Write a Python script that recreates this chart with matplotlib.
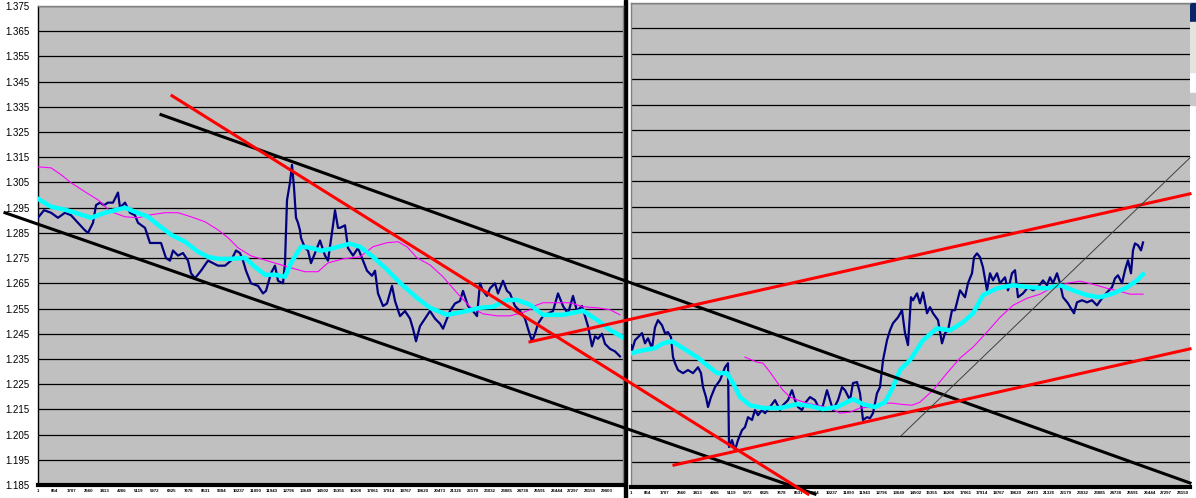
import numpy as np
import matplotlib.pyplot as plt
from matplotlib.patches import Rectangle

plt.rcParams['font.family'] = ['Liberation Sans', 'DejaVu Sans']

# ---- left chart (bar number, price) ----
left_bar = [0, 306, 663, 1020, 1377, 1683, 2040, 2397, 2550, 2805, 2958, 3162, 3366, 3570,
            3825, 4080, 4182, 4437, 4692, 4947, 5100, 5457, 5712, 5967, 6273, 6528, 6732,
            6885, 7140, 7395, 7650, 7803, 8007, 8313, 8670, 8925, 9180, 9537, 9843, 10098,
            10302, 10455, 10608, 10863, 11220, 11475, 11628, 11883, 12087, 12240, 12495,
            12597, 12699, 12852, 12954, 13056, 13158, 13260, 13362, 13413, 13617, 13770,
            13923, 14127, 14382, 14637, 14790, 15045, 15147, 15300, 15402, 15657, 15810,
            16065, 16320, 16575, 16779, 17034, 17187, 17340, 17595, 17799, 18054, 18207,
            18462, 18717, 18972, 19125, 19278, 19482, 19737, 19992, 20247, 20502, 20655,
            20859, 21012, 21267, 21522, 21675, 21930, 22185, 22389, 22542, 22695, 22899,
            23052, 23307, 23460, 23715, 23919, 24072, 24327, 24582, 24837, 24990, 25194,
            25347, 25500, 25755, 26010, 26265, 26520, 26775, 27030, 27285, 27489, 27744,
            27897, 28050, 28254, 28407, 28560, 28764, 28917, 29172, 29427, 29682]
left_price = [1.291, 1.294, 1.293, 1.291, 1.293, 1.292, 1.289, 1.286, 1.285, 1.289, 1.296,
              1.297, 1.296, 1.297, 1.297, 1.301, 1.295, 1.297, 1.293, 1.292, 1.289, 1.287,
              1.281, 1.281, 1.281, 1.275, 1.274, 1.278, 1.276, 1.277, 1.274, 1.269, 1.267,
              1.270, 1.274, 1.273, 1.272, 1.272, 1.274, 1.278, 1.277, 1.274, 1.270, 1.265,
              1.264, 1.261, 1.262, 1.269, 1.272, 1.266, 1.265, 1.273, 1.298, 1.305, 1.312,
              1.303, 1.291, 1.289, 1.286, 1.283, 1.279, 1.278, 1.273, 1.277, 1.282, 1.276,
              1.274, 1.288, 1.294, 1.287, 1.287, 1.288, 1.279, 1.276, 1.279, 1.274, 1.270,
              1.268, 1.270, 1.261, 1.256, 1.257, 1.264, 1.258, 1.252, 1.254, 1.251, 1.247,
              1.242, 1.248, 1.251, 1.254, 1.251, 1.249, 1.247, 1.251, 1.254, 1.257, 1.258,
              1.262, 1.256, 1.254, 1.252, 1.265, 1.262, 1.260, 1.263, 1.265, 1.261, 1.266,
              1.262, 1.261, 1.256, 1.254, 1.251, 1.247, 1.242, 1.245, 1.249, 1.252, 1.253,
              1.254, 1.261, 1.256, 1.253, 1.260, 1.254, 1.256, 1.252, 1.248, 1.240, 1.244,
              1.243, 1.245, 1.241, 1.239, 1.238, 1.236]

left_fast_bar = [0, 663, 1377, 1887, 2703, 3417, 4437, 4947, 5610, 6120, 6783, 7497, 8160,
                 8670, 9180, 9843, 10557, 11067, 11577, 12087, 12597, 12903, 13413, 13923,
                 14433, 14943, 15300, 15912, 16422, 17085, 17799, 18462, 19329, 19992, 20859,
                 21675, 22542, 23205, 23919, 24429, 25092, 25755, 26775, 27795, 28509, 29172,
                 29784]
left_fast = [1.2985, 1.2954, 1.2942, 1.2930, 1.2910, 1.2930, 1.2950, 1.2934, 1.2914, 1.2882,
             1.2843, 1.2815, 1.2775, 1.2755, 1.2747, 1.2747, 1.2751, 1.2715, 1.2684, 1.2684,
             1.2676, 1.2731, 1.2795, 1.2791, 1.2779, 1.2787, 1.2795, 1.2807, 1.2795, 1.2755,
             1.2704, 1.2652, 1.2592, 1.2553, 1.2525, 1.2537, 1.2553, 1.2557, 1.2584, 1.2584,
             1.2565, 1.2525, 1.2525, 1.2541, 1.2505, 1.2465, 1.2438]

left_slow_bar = [0, 663, 1173, 1683, 2397, 3060, 3723, 4437, 5100, 5763, 6477, 7140, 7803,
                 8517, 9180, 9690, 10200, 10863, 11883, 12750, 13617, 14280, 14790, 15555,
                 16422, 17085, 17799, 18360, 18819, 19329, 19992, 20655, 21369, 22032, 22695,
                 23409, 24072, 24684, 25092, 25347, 25755, 26469, 27132, 27795, 28509, 29172,
                 29682]
left_slow = [1.3112, 1.3108, 1.3081, 1.3049, 1.3013, 1.2981, 1.2934, 1.2914, 1.2910, 1.2922,
             1.2930, 1.2930, 1.2914, 1.2894, 1.2862, 1.2831, 1.2791, 1.2759, 1.2735, 1.2715,
             1.2696, 1.2696, 1.2731, 1.2747, 1.2755, 1.2795, 1.2811, 1.2815, 1.2795, 1.2751,
             1.2723, 1.2676, 1.2612, 1.2557, 1.2529, 1.2521, 1.2521, 1.2533, 1.2545, 1.2561,
             1.2573, 1.2573, 1.2573, 1.2557, 1.2553, 1.2545, 1.2525]

# ---- right chart (bar number, price) ----
right_bar = [0, 51, 204, 357, 561, 714, 867, 1071, 1224, 1377, 1581, 1734, 1887, 2040, 2142,
             2244, 2397, 2652, 2907, 3162, 3417, 3570, 3672, 3825, 3927, 4080, 4284, 4539,
             4794, 4947, 4998, 5151, 5304, 5457, 5661, 5814, 5967, 6171, 6324, 6477, 6681,
             6834, 7089, 7344, 7599, 7752, 8007, 8211, 8364, 8517, 8721, 8874, 9129, 9384,
             9639, 9792, 9996, 10149, 10302, 10557, 10761, 10914, 11169, 11322, 11526, 11679,
             11832, 12036, 12189, 12342, 12546, 12699, 12852, 13056, 13209, 13362, 13617,
             13821, 13974, 14127, 14280, 14382, 14586, 14739, 14892, 15096, 15249, 15402,
             15657, 15861, 16014, 16167, 16371, 16524, 16779, 17034, 17187, 17391, 17493,
             17646, 17799, 17952, 18156, 18309, 18462, 18666, 18819, 19074, 19227, 19431,
             19584, 19737, 19992, 20247, 20502, 20757, 21012, 21216, 21369, 21522, 21726,
             21879, 22032, 22287, 22491, 22593, 22746, 23001, 23256, 23511, 23766, 24021,
             24276, 24531, 24684, 24837, 25041, 25194, 25347, 25500, 25602, 25704, 25857,
             26010, 26112]
right_price = [1.2407, 1.2387, 1.2426, 1.2438, 1.2454, 1.2414, 1.2434, 1.2395, 1.2477, 1.2505,
               1.2485, 1.2454, 1.2458, 1.2438, 1.2360, 1.2336, 1.2309, 1.2297, 1.2309, 1.2297,
               1.2320, 1.2297, 1.2242, 1.2203, 1.2164, 1.2203, 1.2242, 1.2269, 1.2320, 1.2336,
               1.2007, 1.2034, 1.1995, 1.2034, 1.2073, 1.2085, 1.2124, 1.2113, 1.2152, 1.2132,
               1.2152, 1.2140, 1.2164, 1.2191, 1.2152, 1.2171, 1.2191, 1.2230, 1.2191, 1.2164,
               1.2152, 1.2179, 1.2203, 1.2191, 1.2152, 1.2171, 1.2230, 1.2191, 1.2152, 1.2191,
               1.2242, 1.2230, 1.2191, 1.2258, 1.2262, 1.2218, 1.2113, 1.2124, 1.2120, 1.2140,
               1.2218, 1.2242, 1.2348, 1.2426, 1.2465, 1.2493, 1.2516, 1.2544, 1.2454, 1.2407,
               1.2595, 1.2583, 1.2610, 1.2571, 1.2614, 1.2532, 1.2556, 1.2532, 1.2505, 1.2414,
               1.2454, 1.2465, 1.2544, 1.2544, 1.2622, 1.2595, 1.2650, 1.2689, 1.2752, 1.2767,
               1.2752, 1.2712, 1.2622, 1.2689, 1.2661, 1.2689, 1.2650, 1.2673, 1.2622, 1.2689,
               1.2701, 1.2595, 1.2610, 1.2634, 1.2622, 1.2634, 1.2661, 1.2642, 1.2673, 1.2650,
               1.2689, 1.2650, 1.2595, 1.2571, 1.2544, 1.2532, 1.2575, 1.2583, 1.2575, 1.2583,
               1.2563, 1.2591, 1.2614, 1.2634, 1.2669, 1.2681, 1.2650, 1.2701, 1.2740, 1.2689,
               1.2779, 1.2806, 1.2799, 1.2779, 1.2810]

right_fast_bar = [0, 612, 1224, 1632, 2091, 2652, 3366, 3876, 4386, 4896, 5202, 5559, 6069,
                  6732, 7599, 8466, 9129, 9792, 10506, 11322, 11832, 12444, 12954, 13362,
                  13719, 14229, 14892, 15606, 16269, 16932, 17442, 17952, 18666, 19482, 20349,
                  21216, 21879, 22542, 23256, 23919, 24582, 25296, 25806, 26112]
right_fast = [1.2375, 1.2387, 1.2395, 1.2414, 1.2422, 1.2395, 1.2360, 1.2328, 1.2297, 1.2297,
              1.2258, 1.2203, 1.2171, 1.2160, 1.2160, 1.2175, 1.2168, 1.2156, 1.2164, 1.2195,
              1.2175, 1.2164, 1.2183, 1.2242, 1.2309, 1.2348, 1.2426, 1.2473, 1.2465, 1.2497,
              1.2532, 1.2603, 1.2630, 1.2642, 1.2634, 1.2630, 1.2642, 1.2622, 1.2603, 1.2595,
              1.2610, 1.2634, 1.2661, 1.2685]

right_slow_bar = [5814, 6426, 6732, 7089, 7446, 7752, 8109, 8517, 8976, 9486, 10149, 10659,
                  11169, 11679, 12189, 12852, 13362, 13719, 14331, 14739, 15402, 16116, 16779,
                  17442, 18156, 18819, 19482, 20196, 20859, 21522, 22236, 22899, 23562, 24276,
                  24939, 25449, 26112]
right_slow = [1.2360, 1.2340, 1.2336, 1.2301, 1.2262, 1.2230, 1.2203, 1.2191, 1.2179, 1.2171,
              1.2160, 1.2140, 1.2144, 1.2160, 1.2164, 1.2179, 1.2179, 1.2175, 1.2171, 1.2183,
              1.2230, 1.2297, 1.2356, 1.2399, 1.2458, 1.2516, 1.2563, 1.2591, 1.2607, 1.2634,
              1.2650, 1.2658, 1.2646, 1.2630, 1.2618, 1.2607, 1.2607]

# hand drawn trend lines, in the left chart's (bar, price) frame
black_lines = [[(6273, 1.3319), (58752, 1.1858)],
               [(-1683, 1.2930), (39627, 1.1814)]]
red_lines = [[(6834, 1.3394), (39270, 1.1814)],
             [(25092, 1.2418), (58752, 1.3005)],
             [(32436, 1.1929), (58752, 1.2390)]]
thin_line = [(44013, 1.2045), (58752, 1.3148)]

tick_step = 853
y_ticks = np.round(np.arange(1.185, 1.3751, 0.01), 3)

fig = plt.figure(figsize=(11.96, 4.98), dpi=100)
ax_r = fig.add_axes([631/1196, 11/498, 559/1196, 484/498], zorder=1)
ax_l = fig.add_axes([38/1196, 13/498, 585/1196, 479/498], zorder=2)

for ax, xmax in [(ax_l, 29835), (ax_r, 28509)]:
    ax.set_facecolor('#c0c0c0')
    ax.set_xlim(0, xmax)
    ax.set_ylim(1.185, 1.375)
    ax.set_yticks(y_ticks)
    ax.grid(axis='y', color='black', lw=0.9)
    ax.set_axisbelow(True)
    ticks = np.arange(1, xmax, tick_step)
    ax.set_xticks(ticks)
    ax.set_xticklabels([str(t) for t in ticks], fontsize=3.2, fontweight='bold')
    ax.tick_params(axis='x', length=0, pad=3)
    for s in ['top', 'right', 'left']:
        ax.spines[s].set_color('#808080')
        ax.spines[s].set_linewidth(1)
    ax.spines['bottom'].set_color('black')
    ax.spines['bottom'].set_linewidth(3)

ax_l.spines['left'].set_color('black')
ax_l.set_yticklabels([f"{v:.3f}" for v in y_ticks], fontsize=7)
ax_l.tick_params(axis='y', length=0, pad=6)
ax_r.tick_params(axis='y', length=0, labelleft=False)
ax_r.spines['right'].set_visible(False)

ax_l.plot(left_bar, left_price, color='#000080', lw=1.6, zorder=3)
ax_l.plot(left_slow_bar, left_slow, color='#ff00ff', lw=0.8, zorder=4)
ax_l.plot(left_fast_bar, left_fast, color='#00ffff', lw=3.2, zorder=5)

ax_r.plot(right_bar, right_price, color='#000080', lw=1.6, zorder=3)
ax_r.plot(right_slow_bar, right_slow, color='#ff00ff', lw=0.8, zorder=4)
ax_r.plot(right_fast_bar, right_fast, color='#00ffff', lw=3.2, zorder=5)

for (x0, y0), (x1, y1) in black_lines:
    ax_l.plot([x0, x1], [y0, y1], color='black', lw=2.2, clip_on=False, zorder=6)
for (x0, y0), (x1, y1) in red_lines:
    ax_l.plot([x0, x1], [y0, y1], color='#ff0000', lw=2.2, clip_on=False, zorder=6)
ax_l.plot([thin_line[0][0], thin_line[1][0]], [thin_line[0][1], thin_line[1][1]],
          color='#404040', lw=0.7, clip_on=False, zorder=6)

# separator between the two charts and window edge bits
fig.patches.append(Rectangle((624/1196, 0), 3/1196, 1, transform=fig.transFigure,
                             color='black', zorder=0))
fig.patches.append(Rectangle((1190/1196, 476/498), 6/1196, 19/498, transform=fig.transFigure,
                             color='#0a246a', zorder=0))
fig.patches.append(Rectangle((1190/1196, 426/498), 6/1196, 50/498, transform=fig.transFigure,
                             color='#e4e3df', zorder=0))
fig.patches.append(Rectangle((1190/1196, 393/498), 6/1196, 12/498, transform=fig.transFigure,
                             color='#c8c8c8', zorder=0))

fig.savefig('out.png', dpi=100)
